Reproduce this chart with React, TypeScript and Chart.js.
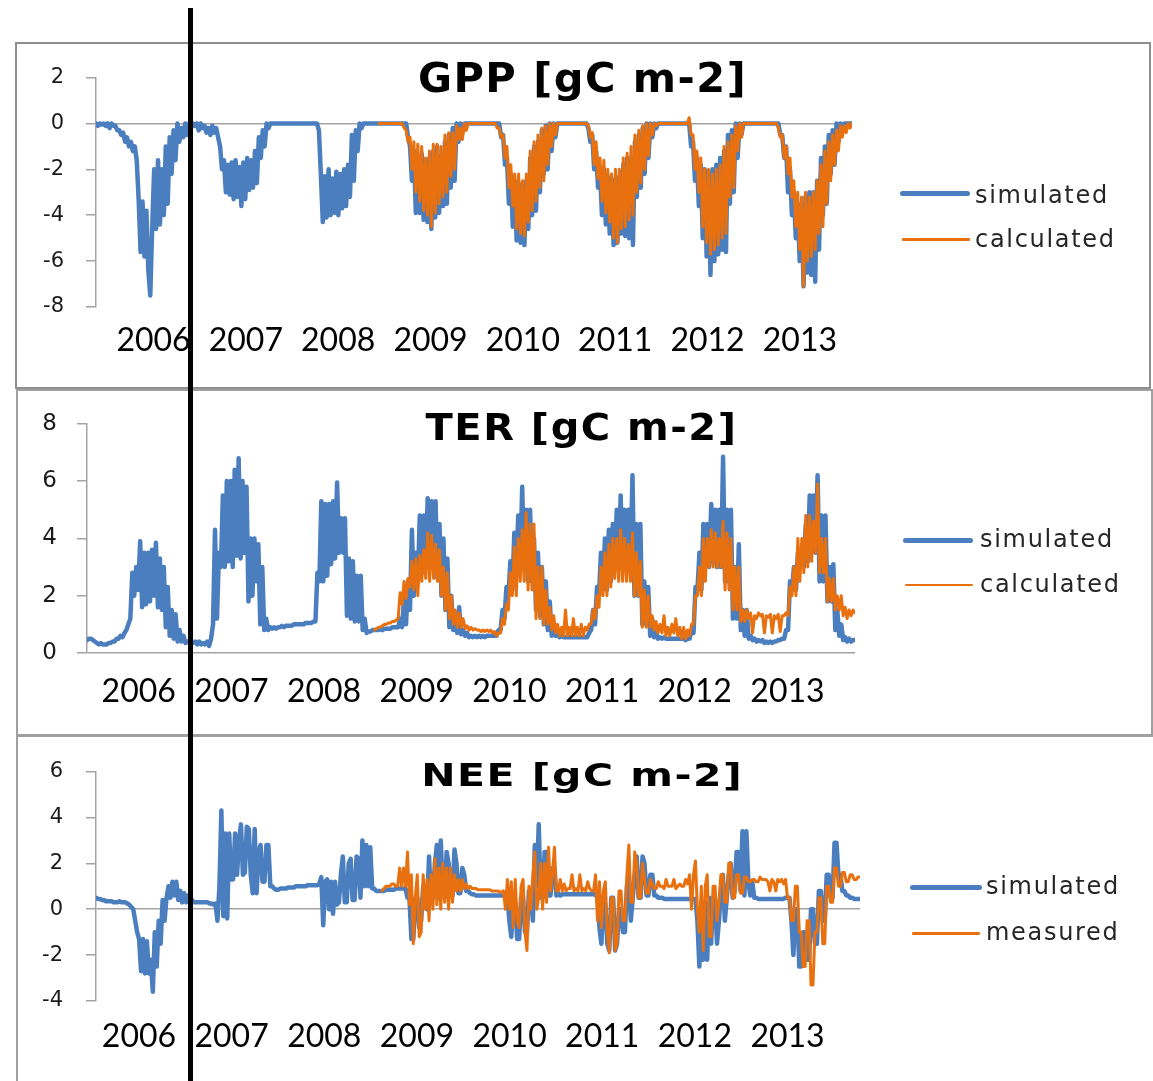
import React, { useEffect, useRef } from "react";
import { Chart, registerables } from "chart.js";

Chart.register(...registerables);

// ---- time base: weekly samples from mid-Nov 2005 to end of 2013 ----
const T_START = 2005.875;
const T_STEP = 1 / 48;
const T_END = 2014.0;
const OBS_START = 146; // sample index where the calculated / measured series begin

const YEAR_LABELS = ["2006", "2007", "2008", "2009", "2010", "2011", "2012", "2013"];

// ---- GPP [gC m-2] ----
const GPP_SIM = [
  0, -0.1, 0, -0.05, 0, -0.1,
  /*2006*/ 0, -0.2, 0, -0.1, -0.1, -0.3, -0.3, -0.5, -0.4, -0.8, -0.6, -1.0, -0.8, -1.2, -1.0, -1.6, -3.3, -5.6, -3.4, -5.8, -3.8, -6.4, -7.5, -4.5, -2.0, -4.6, -1.6, -4.4, -2.0, -4.0, -1.0, -3.5, -0.6, -2.2, -0.3, -1.6, 0, -0.8, -0.2, -0.6, 0, -0.5, 0, -0.2, 0, -0.1, 0, -0.3,
  /*2007*/ 0, -0.2, -0.1, -0.4, -0.2, -0.5, -0.1, -0.4, -0.2, -0.6, -1.0, -2.0, -1.6, -3.0, -1.8, -3.1, -1.7, -3.3, -1.6, -3.2, -1.9, -3.6, -1.7, -3.3, -1.5, -2.9, -1.6, -2.8, -1.2, -2.6, -0.6, -1.5, -0.3, -1.0, 0, -0.2, 0, 0, 0, 0, 0, 0, 0, 0, 0, 0, 0, 0,
  /*2008*/ 0, 0, 0, 0, 0, 0, 0, 0, 0, 0, 0, 0, 0, -0.3, -2.2, -4.3, -2.3, -4.1, -2.0, -4.0, -2.4, -3.9, -2.1, -4.0, -2.2, -3.7, -2.0, -3.6, -1.8, -3.2, -0.5, -2.5, -0.3, -1.2, 0, -0.2, 0, 0, 0, 0, 0, 0, 0, 0, 0, 0, 0, 0,
  /*2009*/ 0, 0, 0, 0, 0, 0, 0, 0, 0, 0, 0, -0.6, -1.0, -2.5, -1.2, -3.9, -1.5, -3.9, -1.3, -4.2, -1.8, -4.3, -1.5, -4.6, -1.2, -4.1, -1.0, -3.9, -1.4, -3.6, -0.8, -3.5, -0.5, -2.8, -0.2, -2.5, 0, -0.8, 0, -0.4, 0, 0, 0, 0, 0, 0, 0, 0,
  /*2010*/ 0, 0, 0, 0, 0, 0, 0, 0, 0, 0, 0, -0.6, -0.5, -1.8, -1.5, -3.5, -2.2, -4.5, -2.5, -5.1, -2.6, -5.2, -2.8, -5.3, -2.5, -4.6, -1.5, -4.0, -1.0, -3.8, -0.8, -3.0, -0.3, -2.2, -0.1, -2.0, 0, -1.2, 0, -0.6, 0, 0, 0, 0, 0, 0, 0, 0,
  /*2011*/ 0, 0, 0, 0, 0, 0, 0, 0, -0.2, -0.8, -0.5, -2.0, -1.2, -2.8, -2.0, -4.0, -2.0, -4.4, -2.3, -4.8, -2.5, -5.3, -2.4, -5.2, -2.3, -4.8, -1.8, -4.9, -1.5, -5.0, -1.5, -5.3, -0.8, -3.2, -0.5, -2.8, -0.2, -2.2, 0, -1.5, 0, -0.6, 0, -0.2, 0, 0, 0, 0,
  /*2012*/ 0, 0, 0, 0, 0, 0, 0, 0, 0, 0, 0, 0, 0, -1.0, -0.8, -2.5, -1.5, -3.6, -1.8, -5.0, -2.0, -5.8, -2.2, -6.6, -2.0, -6.0, -1.8, -5.7, -1.5, -5.5, -1.2, -5.6, -0.5, -3.5, -0.3, -3.0, 0, -1.5, 0, -0.5, 0, 0, 0, 0, 0, 0, 0, 0,
  /*2013*/ 0, 0, 0, 0, 0, 0, 0, 0, 0, 0, 0, -0.5, -0.5, -1.5, -1.0, -3.0, -2.0, -4.0, -3.0, -5.0, -3.5, -6.0, -3.5, -7.1, -3.2, -6.5, -3.0, -6.6, -3.0, -6.9, -2.5, -5.5, -1.5, -4.0, -1.0, -3.5, -0.5, -2.2, -0.3, -1.8, 0, -0.8, 0, -0.3, 0, 0, 0, 0,
  0,
];
const GPP_CALC = [
  0, 0, 0, 0,
  /*2009*/ 0, 0, 0, 0, 0, 0, 0, 0, 0, -0.2, -0.3, -0.8, -0.6, -2.0, -0.8, -3.0, -0.9, -3.4, -1.0, -3.8, -1.5, -4.0, -1.2, -4.5, -0.9, -3.9, -0.9, -3.5, -1.0, -3.2, -0.5, -3.0, -0.4, -2.3, -0.4, -2.0, -0.1, -0.7, -0.2, -0.7, 0, -0.3, 0, 0, 0, 0, 0, 0,
  /*2010*/ 0, 0, 0, 0, 0, 0, 0, 0, 0, -0.2, -0.2, -0.6, -0.5, -1.5, -1.0, -2.8, -1.8, -3.6, -2.2, -4.6, -2.2, -4.8, -2.5, -4.9, -2.2, -4.3, -1.2, -3.8, -0.8, -3.4, -0.5, -2.8, -0.2, -2.5, -0.1, -1.8, 0, -1.0, 0, -0.5, 0, 0, 0, 0, 0, 0, 0, 0,
  /*2011*/ 0, 0, 0, 0, 0, 0, 0, 0, -0.1, -0.6, -0.4, -1.8, -0.8, -2.4, -1.5, -3.4, -1.6, -3.9, -2.0, -4.3, -2.2, -5.0, -2.0, -5.2, -2.0, -4.6, -1.5, -4.5, -1.3, -4.2, -1.0, -4.0, -0.5, -3.0, -0.3, -2.6, -0.1, -2.0, 0, -1.4, 0, -0.5, 0, -0.1, 0, 0, 0, 0,
  /*2012*/ 0, 0, 0, 0, 0, 0, 0, 0, 0, 0, 0, 0, 0.25, -0.5, -0.5, -2.0, -1.2, -3.0, -1.5, -4.5, -2.0, -5.2, -2.0, -5.7, -2.2, -5.5, -2.0, -5.3, -1.8, -5.0, -1.0, -4.8, -0.8, -3.2, -0.5, -2.8, -0.1, -1.2, 0, -0.6, 0, 0, 0, 0, 0, 0, 0, 0,
  /*2013*/ 0, 0, 0, 0, 0, 0, 0, 0, 0, 0, -0.2, -0.6, -0.5, -1.5, -1.0, -2.2, -1.5, -3.2, -2.5, -4.5, -3.0, -5.5, -3.2, -7.1, -3.0, -6.0, -3.2, -5.8, -3.0, -5.5, -2.5, -4.8, -1.8, -4.5, -1.2, -3.5, -0.8, -2.5, -0.5, -1.8, -0.3, -1.2, -0.1, -0.6, -0.1, -0.4, 0, -0.2,
  0,
];

// ---- TER [gC m-2] ----
const TER_SIM = [
  0.45, 0.5, 0.5, 0.45, 0.4, 0.35,
  /*2006*/ 0.3, 0.35, 0.3, 0.3, 0.3, 0.35, 0.35, 0.4, 0.4, 0.5, 0.5, 0.6, 0.55, 0.7, 0.8, 1.0, 1.2, 2.8, 2.0, 3.0, 2.2, 3.9, 1.6, 3.5, 1.7, 3.5, 1.8, 3.6, 2.0, 3.85, 1.6, 3.3, 1.5, 3.0, 0.9, 2.3, 0.6, 1.5, 0.5, 1.35, 0.4, 0.8, 0.4, 0.6, 0.35, 0.4, 0.35, 0.4,
  /*2007*/ 0.35, 0.4, 0.3, 0.4, 0.3, 0.35, 0.3, 0.4, 0.25, 0.5, 1.0, 4.3, 1.2, 3.5, 3.0, 5.5, 3.0, 6.0, 3.2, 6.0, 3.0, 6.4, 3.4, 6.8, 3.3, 6.0, 3.5, 5.8, 1.8, 4.0, 2.0, 4.0, 2.5, 3.8, 1.0, 3.0, 0.8, 1.2, 0.8, 0.9, 0.85, 0.9, 0.85, 0.9, 0.9, 0.95, 0.9, 0.95,
  /*2008*/ 0.95, 0.95, 0.95, 1.0, 1.0, 1.0, 1.0, 1.0, 1.0, 1.05, 1.05, 1.05, 1.05, 1.1, 1.1, 2.8, 2.5, 5.3, 2.5, 5.2, 2.7, 5.2, 3.1, 5.3, 3.3, 5.95, 3.5, 4.7, 3.5, 4.7, 1.3, 3.3, 1.2, 3.2, 1.1, 2.7, 1.1, 2.7, 0.8, 1.2, 0.7, 0.75, 0.75, 0.8, 0.8, 0.8, 0.8, 0.85,
  /*2009*/ 0.8, 0.85, 0.85, 0.85, 0.85, 0.9, 0.9, 0.9, 0.9, 1.2, 0.9, 1.9, 1.0, 2.5, 1.5, 4.3, 2.0, 3.5, 2.5, 4.8, 2.8, 4.8, 3.0, 5.4, 3.0, 5.3, 3.0, 5.3, 2.6, 4.5, 2.0, 4.0, 1.5, 3.3, 0.9, 2.0, 0.8, 1.4, 0.7, 1.6, 0.65, 0.8, 0.6, 0.7, 0.55, 0.6, 0.55, 0.6,
  /*2010*/ 0.55, 0.6, 0.55, 0.6, 0.55, 0.6, 0.6, 0.6, 0.6, 0.6, 0.6, 0.8, 0.8, 1.5, 1.2, 2.3, 2.0, 3.2, 2.2, 4.2, 3.0, 4.8, 3.0, 5.8, 3.0, 5.0, 2.5, 5.0, 2.5, 4.0, 1.5, 3.5, 1.3, 3.0, 1.0, 2.5, 0.8, 1.8, 0.6, 1.0, 0.6, 0.7, 0.55, 0.6, 0.55, 0.55, 0.55, 0.55,
  /*2011*/ 0.55, 0.55, 0.55, 0.55, 0.55, 0.55, 0.55, 0.55, 0.55, 0.7, 0.8, 1.5, 1.0, 2.3, 2.0, 3.5, 2.2, 4.0, 2.2, 4.3, 2.5, 4.5, 3.0, 5.0, 3.0, 5.5, 3.0, 5.0, 3.0, 5.0, 3.0, 6.2, 2.0, 4.5, 2.0, 4.5, 1.0, 2.5, 1.0, 2.3, 0.6, 1.2, 0.55, 0.7, 0.5, 0.55, 0.5, 0.55,
  /*2012*/ 0.5, 0.5, 0.5, 0.5, 0.5, 0.5, 0.5, 0.5, 0.5, 0.5, 0.45, 0.5, 0.5, 0.8, 0.7, 2.3, 2.2, 3.5, 2.2, 4.5, 3.0, 4.5, 3.0, 5.2, 3.2, 5.0, 3.0, 5.0, 3.0, 6.85, 2.5, 5.0, 2.5, 5.0, 1.2, 3.0, 1.2, 3.8, 0.8, 1.5, 0.6, 1.5, 0.5, 0.6, 0.45, 0.5, 0.4, 0.45,
  /*2013*/ 0.4, 0.45, 0.35, 0.4, 0.35, 0.4, 0.35, 0.4, 0.4, 0.45, 0.45, 0.5, 0.5, 0.8, 0.8, 2.5, 2.2, 3.0, 2.2, 3.5, 3.0, 3.5, 3.0, 4.5, 3.2, 5.5, 3.5, 5.5, 3.5, 6.2, 2.5, 4.8, 2.5, 4.8, 1.8, 3.0, 1.8, 3.1, 0.8, 1.5, 0.6, 1.0, 0.45, 0.55, 0.4, 0.5, 0.4, 0.45,
  0.45,
];
const TER_CALC = [
  0.8, 0.85, 0.9, 0.9,
  /*2009*/ 0.95, 1.0, 1.0, 1.05, 1.05, 1.1, 1.1, 1.15, 1.2, 2.1, 1.7, 2.5, 1.9, 2.6, 2.3, 3.2, 2.2, 3.3, 2.0, 3.4, 2.5, 3.6, 2.6, 4.2, 2.5, 4.1, 2.6, 3.8, 2.5, 3.6, 2.0, 3.0, 1.5, 2.8, 1.2, 2.0, 1.0, 1.5, 0.9, 1.4, 0.9, 1.2, 0.85, 0.95, 0.8, 0.9, 0.8, 0.85,
  /*2010*/ 0.8, 0.8, 0.75, 0.8, 0.75, 0.8, 0.75, 0.8, 0.7, 0.75, 0.6, 0.7, 0.7, 1.2, 1.0, 1.7, 1.5, 2.8, 2.0, 3.7, 2.0, 4.0, 2.5, 4.3, 2.5, 4.9, 2.2, 4.5, 2.2, 4.5, 1.2, 3.0, 1.2, 3.0, 1.0, 2.2, 1.0, 1.6, 0.8, 1.3, 0.7, 1.0, 0.6, 0.9, 0.6, 1.5, 0.6, 0.9,
  /*2011*/ 0.6, 1.2, 0.6, 0.9, 0.6, 1.0, 0.6, 0.9, 0.8, 1.0, 1.0, 1.5, 1.2, 2.0, 1.6, 3.0, 2.0, 3.5, 2.0, 3.8, 2.3, 4.0, 2.6, 4.0, 2.5, 4.3, 2.5, 4.0, 2.5, 3.8, 2.5, 4.2, 2.0, 3.5, 2.0, 3.2, 0.9, 2.2, 0.9, 2.0, 0.9, 1.3, 0.8, 1.1, 0.7, 1.0, 0.7, 1.3,
  /*2012*/ 0.6, 0.9, 0.6, 1.0, 0.7, 1.2, 0.6, 0.9, 0.5, 0.9, 0.5, 0.8, 0.6, 1.0, 1.0, 2.0, 2.0, 3.0, 2.0, 4.0, 2.5, 4.0, 3.0, 4.3, 3.0, 4.2, 3.0, 4.0, 3.0, 4.6, 2.2, 4.2, 2.2, 4.0, 1.5, 3.0, 1.5, 3.0, 1.1, 1.5, 1.1, 1.5, 1.2, 1.4, 0.7, 1.3, 1.2, 1.4,
  /*2013*/ 1.3, 1.35, 0.7, 1.3, 1.25, 1.35, 0.7, 1.3, 1.2, 1.35, 0.75, 1.3, 1.3, 1.4, 1.3, 2.3, 2.0, 3.0, 2.0, 4.0, 2.5, 4.0, 2.8, 4.8, 3.0, 4.8, 3.2, 4.6, 3.5, 5.9, 2.8, 4.0, 2.8, 4.0, 1.8, 2.6, 1.8, 2.6, 1.5, 2.0, 1.5, 2.0, 1.3, 1.6, 1.2, 1.5, 1.3, 1.5,
  1.4,
];

// ---- NEE [gC m-2] ----
const NEE_SIM = [
  0.5, 0.45, 0.45, 0.4, 0.4, 0.35,
  /*2006*/ 0.35, 0.35, 0.35, 0.3, 0.3, 0.3, 0.35, 0.3, 0.3, 0.3, 0.25, 0.2, 0.1, 0.0, -0.5, -1.0, -1.3, -2.7, -1.3, -2.8, -1.4, -2.8, -2.2, -3.6, -1.0, -2.5, -0.5, -1.5, 0.4, -0.5, 0.5, 1.0, 0.5, 1.2, 0.6, 1.2, 0.4, 0.8, 0.3, 0.7, 0.3, 0.6, 0.3, 0.4, 0.3, 0.3, 0.3, 0.3,
  /*2007*/ 0.3, 0.3, 0.3, 0.3, 0.25, 0.25, 0.2, 0.25, -0.5, 1.0, 4.3, -0.3, 3.3, -0.4, 3.3, 1.3, 1.3, 3.3, 1.5, 3.0, 3.7, 1.5, 1.6, 3.6, 3.5, 1.5, 0.7, 3.5, 0.7, 2.5, 2.8, 1.2, 1.2, 2.8, 2.8, 1.0, 1.0, 0.9, 0.85, 0.85, 0.9, 0.9, 0.9, 0.9, 0.95, 0.95, 0.95, 0.95,
  /*2008*/ 1.0, 1.0, 1.0, 1.0, 1.0, 1.0, 1.05, 1.05, 1.05, 1.05, 1.05, 1.05, 1.1, 1.4, -0.7, 1.2, 1.3, 0.0, 1.2, -0.2, 1.2, 0.2, 0.3, 1.5, 2.3, 0.3, 0.3, 2.0, 2.2, 0.4, 0.4, 2.3, 2.2, 0.5, 3.0, 1.0, 2.8, 1.0, 2.7, 0.9, 0.9, 0.8, 0.8, 0.8, 0.8, 0.8, 0.85, 0.85,
  /*2009*/ 0.85, 0.85, 0.85, 0.9, 0.9, 0.9, 0.9, 0.9, 0.9, 0.5, 0.5, -1.3, -1.3, 0.5, 0.5, -0.8, -0.5, 1.0, 1.0, 0.0, 2.3, 0.5, 0.5, 2.0, 2.8, 0.5, 3.0, 0.8, 0.5, 2.5, 2.0, 0.6, 0.6, 2.6, 2.0, 0.7, 0.7, 1.8, 1.5, 0.8, 0.8, 0.7, 0.65, 0.65, 0.6, 0.6, 0.6, 0.6,
  /*2010*/ 0.6, 0.6, 0.6, 0.6, 0.6, 0.6, 0.6, 0.6, 0.6, 0.6, 0.6, 0.6, 0.6, -0.5, -1.2, 0.5, 0.3, -1.3, -1.3, 0.5, 0.5, -1.0, -1.0, 0.8, 0.8, -0.5, 2.8, 1.0, 3.7, 0.5, 0.5, 2.5, 2.5, 0.6, 0.6, 1.8, 1.8, 0.6, 0.7, 0.6, 0.65, 0.65, 0.65, 0.65, 0.65, 0.65, 0.65, 0.65,
  /*2011*/ 0.65, 0.65, 0.65, 0.65, 0.65, 0.65, 0.65, 0.65, 0.7, 0.6, 0.6, -0.8, -1.5, 0.5, 0.2, -1.5, -1.8, 0.5, 0.5, -1.8, -1.5, 0.0, 0.0, -1.0, -1.0, 1.0, 1.5, -0.5, 0.5, 1.5, 2.3, 0.5, 0.5, 2.3, 2.0, 0.6, 0.6, 1.5, 1.5, 0.6, 0.6, 0.5, 0.5, 0.5, 0.45, 0.45, 0.45, 0.45,
  /*2012*/ 0.45, 0.45, 0.45, 0.45, 0.45, 0.45, 0.45, 0.45, 0.45, 0.45, 0.45, 0.45, 0.45, -0.5, -2.5, 0.3, -2.2, 0.3, -2.2, 0.5, -1.5, 0.5, 0.5, -1.5, -0.5, 0.8, 1.5, -0.5, 0.5, 1.5, 2.0, 0.5, 0.8, 2.5, 2.5, 0.8, 3.4, 0.6, 3.4, 1.2, 0.6, 1.2, 0.5, 0.5, 0.45, 0.45, 0.45, 0.45,
  /*2013*/ 0.45, 0.45, 0.45, 0.45, 0.45, 0.45, 0.45, 0.45, 0.45, 0.45, 0.5, 0.5, 0.5, -0.5, -2.0, 0.0, 0.0, -2.5, -2.5, -1.0, -1.0, -2.2, -2.2, 0.0, 0.0, -1.5, -1.5, 0.8, 0.8, -0.5, -0.5, 1.5, 1.5, 0.5, 0.5, 2.9, 2.9, 1.5, 1.5, 0.8, 0.8, 0.6, 0.6, 0.5, 0.5, 0.45, 0.45, 0.45,
  0.45,
];
const NEE_MEAS = [
  0.8, 0.9, 1.0, 1.0,
  /*2009*/ 1.0, 1.1, 1.1, 1.0, 1.0, 1.8, 1.0, 1.8, 1.0, 2.5, 0.2, 1.5, -1.5, 0.5, 1.5, -1.2, -1.0, 1.5, 0.0, 1.3, -0.5, 1.5, 0.0, 2.2, 0.2, 1.8, 0.0, 2.0, 0.3, 1.8, 0.0, 1.8, 0.3, 1.5, 0.8, 1.3, 0.8, 1.3, 0.9, 1.1, 0.9, 1.0, 0.9, 0.9, 0.9, 0.85, 0.85, 0.85,
  /*2010*/ 0.85, 0.85, 0.85, 0.85, 0.8, 0.8, 0.8, 0.8, 0.75, 0.75, 0.8, 0.0, 1.3, 0.0, 1.2, -0.8, 1.3, -0.5, -0.8, 1.0, 1.3, -1.0, -1.8, 1.0, 0.0, 1.5, 2.5, 0.0, 0.5, 2.0, 0.0, 2.0, 0.3, 2.7, 0.8, 1.5, 2.7, 0.8, 0.8, 1.3, 0.8, 1.1, 0.8, 0.9, 0.9, 1.5, 0.8, 0.9,
  /*2011*/ 0.8, 1.5, 0.8, 0.9, 0.8, 1.2, 0.9, 0.8, 0.8, 1.5, -0.5, 1.2, -0.8, 0.8, 1.2, -1.0, -1.9, 0.5, 0.5, -1.8, -1.5, 0.8, 0.8, -0.5, -0.5, 1.5, 2.8, 0.3, 0.3, 2.5, 2.0, 0.5, 0.5, 2.0, 1.3, 0.7, 0.7, 1.3, 1.1, 0.9, 0.9, 1.2, 1.0, 1.0, 0.9, 1.3, 1.0, 1.0,
  /*2012*/ 1.0, 1.3, 0.9, 1.0, 1.1, 1.0, 1.0, 1.3, 1.1, 1.5, 0.0, 1.5, 2.1, 0.0, -1.0, 1.0, -1.8, 1.0, 1.5, -1.2, -1.2, 1.0, 1.0, -0.5, 0.3, 1.5, 1.5, 0.3, 0.3, 2.0, 2.0, 0.5, 0.5, 1.5, 1.5, 0.7, 0.7, 1.4, 1.4, 1.2, 1.2, 1.3, 1.3, 1.2, 1.2, 1.4, 1.3, 1.3,
  /*2013*/ 1.3, 1.2, 0.8, 1.3, 1.2, 0.8, 1.3, 1.2, 1.3, 1.1, 1.3, 0.5, 0.5, -0.5, -0.5, 1.0, 1.0, -1.0, -1.0, -2.5, -2.5, -0.5, -0.5, -3.3, -3.3, -1.0, -1.0, 0.5, 0.5, -1.5, -1.5, 1.0, 1.0, 0.3, 0.3, 1.8, 1.8, 1.0, 1.0, 1.6, 1.6, 1.2, 1.2, 1.5, 1.5, 1.3, 1.3, 1.4,
  1.4,
];

// ---- styles ----
const BLUE = "#4a7ebf";
const ORANGE = "#e8700e";
const AXIS_GREY = "#a3a3a3";

type LegendItem = { x1: number; x2: number; y: number; tx: number; base: number };
type Panel = {
  title: string;
  sim: number[];
  obs: number[];
  obsLabel: string;
  top: number;
  height: number;
  padding: { top: number; left: number; right: number; bottom: number };
  yMin: number;
  yMax: number;
  yFont: number;
  yPad: number;
  xPad: number;
  labelStart: number;
  labelStep: number;
  titleSize: number;
  titleScale: number;
  titleBase: number;
  titleCenter: number;
  legend: LegendItem[];
};

const PANELS: Panel[] = [
  {
    title: "GPP [gC m-2]", sim: GPP_SIM, obs: GPP_CALC, obsLabel: "calculated",
    top: 43, height: 347, padding: { top: 28, left: 36, right: 301, bottom: 23 },
    yMin: -8, yMax: 2, yFont: 21, yPad: 22, xPad: 14,
    labelStart: 2006.493, labelStep: 0.9924,
    titleSize: 41.5, titleScale: 1, titleBase: 91.7, titleCenter: 582.5,
    legend: [
      { x1: 900, x2: 970, y: 193.3, tx: 975, base: 203.3 },
      { x1: 902, x2: 970, y: 239.3, tx: 975, base: 247.7 },
    ],
  },
  {
    title: "TER [gC m-2]", sim: TER_SIM, obs: TER_CALC, obsLabel: "calculated",
    top: 390, height: 346, padding: { top: 28, left: 27, right: 298, bottom: 23 },
    yMin: 0, yMax: 8, yFont: 23, yPad: 20, xPad: 19,
    labelStart: 2006.422, labelStep: 0.9805,
    titleSize: 40, titleScale: 0.92, titleBase: 440, titleCenter: 581.5,
    legend: [
      { x1: 903, x2: 973, y: 540.7, tx: 980, base: 547.7 },
      { x1: 905, x2: 973, y: 585, tx: 980, base: 592.7 },
    ],
  },
  {
    title: "NEE [gC m-2]", sim: NEE_SIM, obs: NEE_MEAS, obsLabel: "measured",
    top: 736, height: 345, padding: { top: 28, left: 36, right: 293, bottom: 20 },
    yMin: -4, yMax: 6, yFont: 21, yPad: 23, xPad: 16.5,
    labelStart: 2006.332, labelStep: 0.9853,
    titleSize: 41, titleScale: 0.8, titleBase: 786.7, titleCenter: 582.3,
    legend: [
      { x1: 910, x2: 982, y: 887.7, tx: 986, base: 894.3 },
      { x1: 912, x2: 980, y: 933.3, tx: 986, base: 940 },
    ],
  },
];

function PanelChart({ p }: { p: Panel }) {
  const ref = useRef<HTMLCanvasElement | null>(null);
  useEffect(() => {
    if (!ref.current) return;
    const simPts = p.sim.map((v, i) => ({ x: T_START + i * T_STEP, y: v }));
    const obsPts = p.obs.map((v, i) => ({ x: T_START + (OBS_START + i) * T_STEP, y: v }));
    const chart = new Chart(ref.current, {
      type: "line",
      data: {
        datasets: [
          {
            label: "simulated", data: simPts, borderColor: BLUE, backgroundColor: BLUE,
            borderWidth: 4.5, pointRadius: 0, tension: 0, order: 2,
            borderJoinStyle: "round", borderCapStyle: "round",
          },
          {
            label: p.obsLabel, data: obsPts, borderColor: ORANGE, backgroundColor: ORANGE,
            borderWidth: 3, pointRadius: 0, tension: 0, order: 1,
            borderJoinStyle: "round", borderCapStyle: "round",
          },
        ],
      },
      options: {
        animation: false,
        responsive: true,
        maintainAspectRatio: false,
        events: [],
        layout: { padding: p.padding },
        plugins: { legend: { display: false }, title: { display: false }, tooltip: { enabled: false } },
        scales: {
          x: {
            type: "linear",
            min: T_START,
            max: T_END,
            border: { display: false },
            grid: { display: false, drawTicks: false },
            afterBuildTicks: (s: any) => {
              s.ticks = YEAR_LABELS.map((_, k) => ({ value: p.labelStart + k * p.labelStep }));
            },
            afterFit: (s: any) => { s.height = 60; },
            ticks: {
              autoSkip: false, maxRotation: 0, minRotation: 0, padding: p.xPad,
              color: "#000", font: { family: "Lato, 'Open Sans', sans-serif", size: 32 },
              callback: (_v: any, idx: number) => YEAR_LABELS[idx],
            },
          },
          y: {
            min: p.yMin,
            max: p.yMax,
            afterFit: (s: any) => { s.width = 60; },
            border: { display: true, color: AXIS_GREY, width: 1.5 },
            grid: {
              drawOnChartArea: true, drawTicks: true, tickLength: 10,
              color: (c: any) => (c.tick && c.tick.value === 0 ? AXIS_GREY : "rgba(0,0,0,0)"),
              tickColor: AXIS_GREY, lineWidth: 1.5, tickWidth: 1.5,
            },
            ticks: {
              stepSize: 2, padding: p.yPad, color: "#1a1a1a",
              font: { family: "'DejaVu Sans', Verdana, sans-serif", size: p.yFont },
            },
          },
        },
      },
    });
    return () => chart.destroy();
  }, [p]);
  return (
    <div style={{ position: "absolute", left: 0, top: p.top, width: 1153, height: p.height }}>
      <canvas ref={ref} style={{ display: "block" }} />
    </div>
  );
}

function Title({ p }: { p: Panel }) {
  const fs = p.titleSize;
  const baseOff = 0.846 * fs;
  return (
    <div
      style={{
        position: "absolute", left: p.titleCenter - 300, width: 600, top: p.titleBase - baseOff,
        textAlign: "center", fontFamily: "'DejaVu Sans', Verdana, sans-serif", fontWeight: "bold",
        fontSize: fs, lineHeight: `${fs}px`, letterSpacing: "1.5px", color: "#000", whiteSpace: "nowrap",
        transform: `scaleY(${p.titleScale})`, transformOrigin: `50% ${baseOff}px`,
      }}
    >
      {p.title}
    </div>
  );
}

function Legend({ p }: { p: Panel }) {
  const labels = ["simulated", p.obsLabel];
  const colors = [BLUE, ORANGE];
  const thick = [5, 2.6];
  return (
    <>
      {p.legend.map((it, k) => (
        <React.Fragment key={k}>
          <div
            style={{
              position: "absolute", left: it.x1, top: it.y - thick[k] / 2, width: it.x2 - it.x1,
              height: thick[k], background: colors[k], borderRadius: thick[k] / 2,
            }}
          />
          <div
            style={{
              position: "absolute", left: it.tx, top: it.base - 20.3, fontFamily: "'DejaVu Sans', sans-serif",
              fontSize: 24, lineHeight: "24px", letterSpacing: "1.7px", color: "#262626", whiteSpace: "nowrap",
            }}
          >
            {labels[k]}
          </div>
        </React.Fragment>
      ))}
    </>
  );
}

export default function App() {
  return (
    <div
      style={{
        position: "absolute", left: 0, top: 0, width: 1153, height: 1081,
        background: "#fff", overflow: "hidden",
      }}
    >
      <div style={{ position: "absolute", left: 15, top: 42, width: 1136, height: 347, border: "2px solid #8f8f8f", boxSizing: "border-box" }} />
      <div style={{ position: "absolute", left: 16, top: 389, width: 1137, height: 347, border: "2px solid #a0a0a0", boxSizing: "border-box" }} />
      <div style={{ position: "absolute", left: 16, top: 735, width: 1200, height: 400, border: "2px solid #a0a0a0", boxSizing: "border-box" }} />
      {PANELS.map((p, i) => (
        <PanelChart key={"c" + i} p={p} />
      ))}
      {PANELS.map((p, i) => (
        <Title key={"t" + i} p={p} />
      ))}
      {PANELS.map((p, i) => (
        <Legend key={"l" + i} p={p} />
      ))}
      <div style={{ position: "absolute", left: 188, top: 8, width: 5, height: 1073, background: "#000" }} />
    </div>
  );
}
